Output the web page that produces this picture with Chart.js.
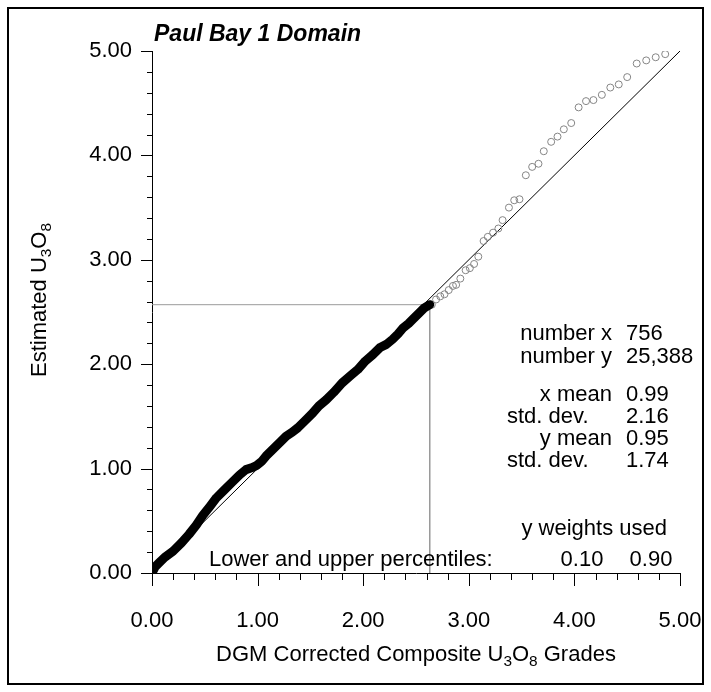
<!DOCTYPE html>
<html>
<head>
<meta charset="utf-8">
<script src="https://cdn.jsdelivr.net/npm/chart.js@4/dist/chart.umd.min.js"></script>
<style>
  html, body { margin: 0; padding: 0; background: #fff; }
  #wrap { width: 711px; height: 692px; }
</style>
</head>
<body>
<div id="wrap"><canvas id="qq"></canvas></div>
<script>
// Q-Q plot values: filled part (below upper percentile)
const curveX = [0.00, 0.03, 0.07, 0.12, 0.20, 0.28, 0.35, 0.42, 0.48, 0.55, 0.61, 0.68, 0.76, 0.83, 0.89, 0.95, 0.99, 1.04, 1.08, 1.15, 1.22, 1.27, 1.33, 1.38, 1.45, 1.52, 1.58, 1.65, 1.72, 1.80, 1.88, 1.95, 2.02, 2.09, 2.16, 2.22, 2.28, 2.33, 2.38, 2.43, 2.47, 2.53, 2.58, 2.63];
const curveY = [0.00, 0.06, 0.10, 0.15, 0.21, 0.29, 0.37, 0.46, 0.55, 0.64, 0.72, 0.79, 0.87, 0.94, 0.99, 1.01, 1.03, 1.07, 1.12, 1.19, 1.26, 1.31, 1.35, 1.39, 1.46, 1.53, 1.60, 1.66, 1.73, 1.82, 1.89, 1.95, 2.03, 2.09, 2.16, 2.19, 2.24, 2.29, 2.35, 2.39, 2.43, 2.49, 2.54, 2.57];

// open circles above the upper percentile
const tailX = [2.65, 2.69, 2.73, 2.77, 2.81, 2.85, 2.88, 2.92, 2.97, 3.01, 3.05, 3.09, 3.14, 3.18, 3.23, 3.28, 3.32, 3.38, 3.43, 3.48, 3.54, 3.60, 3.66, 3.71, 3.78, 3.84, 3.90, 3.97, 4.04, 4.11, 4.18, 4.26, 4.34, 4.42, 4.50, 4.59, 4.68, 4.77, 4.86];
const tailY = [2.57, 2.62, 2.65, 2.67, 2.71, 2.75, 2.76, 2.82, 2.90, 2.92, 2.96, 3.03, 3.18, 3.22, 3.26, 3.30, 3.38, 3.50, 3.57, 3.58, 3.81, 3.89, 3.92, 4.04, 4.13, 4.18, 4.25, 4.31, 4.46, 4.52, 4.53, 4.58, 4.65, 4.68, 4.75, 4.88, 4.91, 4.94, 4.97];

// percentiles (lower 0.10, upper 0.90)
const pctX = [0.01, 2.63];
const pctY = [0.01, 2.57];

const statLabels = ["number x", "number y", "x mean", "std. dev.", "y mean", "std. dev."];
const statValues = ["756", "25,388", "0.99", "2.16", "0.95", "1.74"];

const FONT = "'Liberation Sans', Arial, sans-serif";

const pts = (xs, ys) => xs.map((x, i) => ({ x: x, y: ys[i] }));

// text with subscripts: parts like ["Estimated U", "3", "O", "8"], odd = subscript
function subText(ctx, parts, size, x, y) {
    let w = 0;
    parts.forEach((p, i) => {
        ctx.font = (i % 2 ? size * 0.7 : size) + "px " + FONT;
        w += ctx.measureText(p).width;
    });
    let cx = x - w / 2;
    ctx.textAlign = "left";
    ctx.textBaseline = "middle";
    parts.forEach((p, i) => {
        ctx.font = (i % 2 ? size * 0.7 : size) + "px " + FONT;
        ctx.fillText(p, cx, i % 2 ? y + size * 0.3 : y);
        cx += ctx.measureText(p).width;
    });
}

const decor = {
    id: "decor",
    afterDraw(chart) {
        const ctx = chart.ctx;
        const xs = chart.scales.x, ys = chart.scales.y;
        const left = xs.left, bottom = ys.bottom;
        ctx.save();
        ctx.fillStyle = "#000";
        ctx.strokeStyle = "#000";

        // outer frame
        ctx.lineWidth = 2;
        ctx.strokeRect(8, 8, 695, 676);

        // ticks
        ctx.lineWidth = 1;
        ctx.beginPath();
        for (let k = 0; k <= 25; k++) {
            const v = k * 0.2;
            const major = k % 5 === 0;
            const px = Math.round(xs.getPixelForValue(v)) + 0.5;
            ctx.moveTo(px, bottom);
            ctx.lineTo(px, bottom + (major ? 13 : 7));
            const py = Math.round(ys.getPixelForValue(v)) + 0.5;
            ctx.moveTo(left, py);
            ctx.lineTo(left - (major ? 11 : 5), py);
        }
        ctx.stroke();

        // title
        ctx.font = "italic bold 23px " + FONT;
        ctx.textAlign = "left";
        ctx.textBaseline = "middle";
        ctx.fillText("Paul Bay 1 Domain", 154, 35);

        // axis titles
        subText(ctx, ["DGM Corrected Composite U", "3", "O", "8", " Grades"], 22, 416, 655);
        ctx.save();
        ctx.translate(40, 300);
        ctx.rotate(-Math.PI / 2);
        subText(ctx, ["Estimated U", "3", "O", "8"], 22, 0, 0);
        ctx.restore();

        // stats block
        ctx.font = "22px " + FONT;
        ctx.textBaseline = "middle";
        const rowsY = [334, 357, 395, 417, 439, 461];
        statLabels.forEach((lab, i) => {
            if (lab.startsWith("std")) {
                ctx.textAlign = "left";
                ctx.fillText(lab, 507, rowsY[i]);
            } else {
                ctx.textAlign = "right";
                ctx.fillText(lab, 612, rowsY[i]);
            }
            ctx.textAlign = "left";
            ctx.fillText(statValues[i], 626, rowsY[i]);
        });
        ctx.textAlign = "right";
        ctx.fillText("y weights used", 667, 529);
        ctx.textAlign = "left";
        ctx.fillText("Lower and upper percentiles:", 209, 560);
        ctx.textAlign = "center";
        ctx.fillText("0.10", 582, 560);
        ctx.fillText("0.90", 651, 560);
        ctx.restore();
    }
};

new Chart(document.getElementById("qq"), {
    type: "scatter",
    data: {
        datasets: [
            {
                data: pts(curveX, curveY),
                showLine: true,
                borderColor: "#000",
                borderWidth: 9,
                borderCapStyle: "round",
                borderJoinStyle: "round",
                pointRadius: 0,
                order: 0
            },
            {
                data: pts(tailX, tailY),
                pointRadius: 3.5,
                pointBorderWidth: 1,
                pointBorderColor: "#858585",
                pointBackgroundColor: "rgba(255,255,255,0)",
                order: 1
            },
            {
                data: [{ x: 0, y: 0 }, { x: 5, y: 5 }],
                showLine: true,
                borderColor: "#000",
                borderWidth: 1,
                pointRadius: 0,
                order: 2
            },
            {
                data: [{ x: 0, y: pctY[1] }, { x: pctX[1], y: pctY[1] }, { x: pctX[1], y: 0 }],
                showLine: true,
                borderColor: "#9a9a9a",
                borderWidth: 1,
                pointRadius: 0,
                order: 3
            },
            {
                data: [{ x: pctX[0], y: pctY[0] }],
                pointRadius: 3,
                pointBackgroundColor: "#8a8a8a",
                pointBorderColor: "#8a8a8a",
                order: 4
            }
        ]
    },
    options: {
        responsive: true,
        maintainAspectRatio: false,
        animation: false,
        events: [],
        layout: {
            padding: { left: 0, right: 31, top: 51, bottom: 0 }
        },
        plugins: {
            legend: { display: false },
            tooltip: { enabled: false }
        },
        scales: {
            x: {
                type: "linear",
                min: 0,
                max: 5,
                grid: { display: false, tickLength: 8 },
                border: { display: true, color: "#000", width: 1 },
                ticks: {
                    stepSize: 1,
                    padding: 27,
                    color: "#000",
                    font: { family: FONT, size: 22 },
                    callback: v => v.toFixed(2)
                },
                afterFit: s => { s.height = 119; s.paddingLeft = 0; s.paddingRight = 0; }
            },
            y: {
                type: "linear",
                min: 0,
                max: 5,
                grid: { display: false, tickLength: 8 },
                border: { display: true, color: "#000", width: 1 },
                ticks: {
                    stepSize: 1,
                    padding: 12,
                    color: "#000",
                    font: { family: FONT, size: 22 },
                    callback: v => v.toFixed(2)
                },
                afterFit: s => { s.width = 152; s.paddingTop = 0; s.paddingBottom = 0; }
            }
        }
    },
    plugins: [decor]
});
</script>
</body>
</html>
